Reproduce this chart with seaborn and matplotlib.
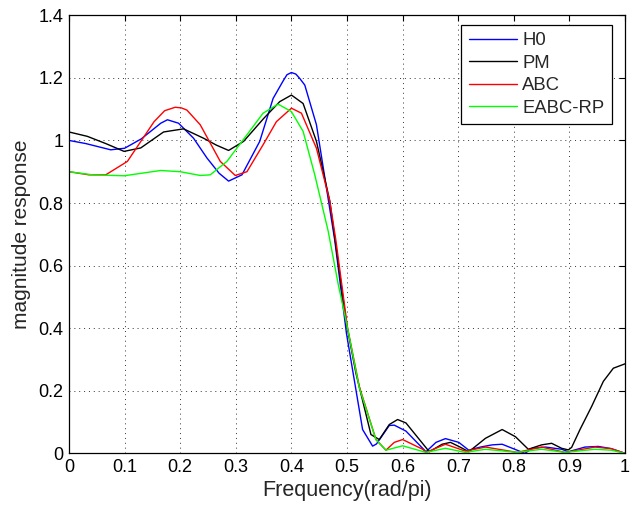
import numpy as np
import pandas as pd
import matplotlib
matplotlib.use('Agg')
import matplotlib.pyplot as plt
import seaborn as sns

# frequency responses
h0_x = [0, 0.03, 0.075, 0.10, 0.13, 0.165, 0.177, 0.197, 0.224, 0.248, 0.27, 0.287,
        0.311, 0.343, 0.367, 0.385, 0.392, 0.40, 0.408, 0.415, 0.424, 0.445, 0.478,
        0.499, 0.528, 0.546, 0.553, 0.576, 0.585, 0.606, 0.642, 0.66, 0.677, 0.701,
        0.719, 0.74, 0.761, 0.779, 0.82, 0.833, 0.857, 0.886, 0.898, 0.928, 0.952,
        0.975, 1.0]
h0_y = [1.0, 0.99, 0.97, 0.975, 1.005, 1.055, 1.066, 1.055, 1.007, 0.944, 0.895, 0.87,
        0.89, 0.997, 1.134, 1.19, 1.21, 1.217, 1.212, 1.198, 1.177, 1.05, 0.68,
        0.383, 0.076, 0.023, 0.03, 0.089, 0.09, 0.071, 0.005, 0.035, 0.047, 0.035,
        0.01, 0.02, 0.027, 0.029, 0.0, 0.016, 0.02, 0.013, 0.005, 0.02, 0.022,
        0.015, 0.0]

pm_x = [0, 0.033, 0.066, 0.099, 0.129, 0.17, 0.206, 0.242, 0.265, 0.287, 0.314, 0.35,
        0.379, 0.40, 0.421, 0.445, 0.469, 0.499, 0.516, 0.543, 0.558, 0.576, 0.591,
        0.606, 0.648, 0.671, 0.686, 0.701, 0.719, 0.749, 0.779, 0.803, 0.826, 0.85,
        0.868, 0.886, 0.898, 0.904, 0.919, 0.94, 0.961, 0.979, 1.0]
pm_y = [1.027, 1.013, 0.99, 0.965, 0.976, 1.027, 1.037, 1.007, 0.985, 0.968, 0.997, 1.07,
        1.124, 1.145, 1.118, 0.997, 0.806, 0.415, 0.256, 0.06, 0.044, 0.092, 0.108,
        0.097, 0.005, 0.029, 0.035, 0.022, 0.005, 0.048, 0.076, 0.053, 0.013, 0.027,
        0.032, 0.016, 0.011, 0.019, 0.076, 0.15, 0.23, 0.272, 0.286]

abc_x = [0, 0.036, 0.066, 0.105, 0.153, 0.172, 0.191, 0.202, 0.212, 0.236, 0.272, 0.299,
         0.32, 0.349, 0.373, 0.40, 0.418, 0.445, 0.469, 0.48, 0.501, 0.522, 0.552,
         0.57, 0.585, 0.60, 0.636, 0.642, 0.677, 0.713, 0.749, 0.806, 0.85, 0.892,
         0.946, 0.975, 1.0]
abc_y = [0.90, 0.89, 0.89, 0.933, 1.06, 1.095, 1.106, 1.104, 1.097, 1.05, 0.933, 0.888,
         0.90, 0.986, 1.06, 1.103, 1.087, 0.975, 0.806, 0.68, 0.40, 0.214, 0.044,
         0.01, 0.035, 0.044, 0.013, 0.003, 0.029, 0.007, 0.02, 0.003, 0.02, 0.003,
         0.02, 0.015, 0.0]

eabc_x = [0, 0.042, 0.099, 0.165, 0.2, 0.236, 0.254, 0.284, 0.32, 0.349, 0.376, 0.40,
          0.421, 0.442, 0.466, 0.484, 0.501, 0.522, 0.552, 0.57, 0.60, 0.642, 0.677,
          0.713, 0.749, 0.806, 0.85, 0.892, 0.946, 0.975, 1.0]
eabc_y = [0.90, 0.89, 0.887, 0.904, 0.90, 0.888, 0.89, 0.933, 1.018, 1.087, 1.116, 1.092,
          1.029, 0.89, 0.711, 0.542, 0.40, 0.21, 0.044, 0.01, 0.024, 0.003, 0.016,
          0.003, 0.013, 0.003, 0.013, 0.003, 0.013, 0.01, 0.0]

names = ['H0', 'PM', 'ABC', 'EABC-RP']
colors = ['#0000ff', '#000000', '#ff0000', '#00ff00']

frames = []
for name, xs, ys in zip(names, [h0_x, pm_x, abc_x, eabc_x], [h0_y, pm_y, abc_y, eabc_y]):
    frames.append(pd.DataFrame({'freq': xs, 'mag': ys, 'method': name}))
df = pd.concat(frames, ignore_index=True)

sns.set_style('white')
plt.rcParams['font.family'] = ['Liberation Sans', 'DejaVu Sans']

fig = plt.figure(figsize=(6.35, 5.09), dpi=100)
ax = fig.add_axes([0.1087, 0.1094, 0.8756, 0.8606])

sns.lineplot(data=df, x='freq', y='mag', hue='method', hue_order=names,
             palette=colors, estimator=None, sort=False, linewidth=1.0, ax=ax)

ax.set_xlim(0, 1)
ax.set_ylim(0, 1.4)
ax.set_xticks(np.arange(0, 1.01, 0.1))
ax.set_xticklabels(['0', '0.1', '0.2', '0.3', '0.4', '0.5', '0.6', '0.7', '0.8', '0.9', '1'])
ax.set_yticks(np.arange(0, 1.41, 0.2))
ax.set_yticklabels(['0', '0.2', '0.4', '0.6', '0.8', '1', '1.2', '1.4'])
ax.tick_params(direction='in', top=True, right=True, length=4, width=0.8,
               labelsize=13, colors='black', pad=4)
for s in ax.spines.values():
    s.set_color('black')
    s.set_linewidth(0.9)
ax.grid(True, linestyle=(0, (1, 4)), color='black', linewidth=0.7, alpha=0.8)

ax.set_xlabel('Frequency(rad/pi)', fontsize=15.5, labelpad=3)
ax.set_ylabel('magnitude response', fontsize=15, labelpad=5)

leg = ax.legend(loc='upper right', bbox_to_anchor=(0.976, 0.978), borderaxespad=0,
                fontsize=13.3, handlelength=2.6, handletextpad=0.3, labelspacing=0.3,
                borderpad=0.4, fancybox=False, framealpha=1, edgecolor='black', title=None)
leg.get_frame().set_linewidth(0.9)

fig.savefig('out.png', dpi=100)
